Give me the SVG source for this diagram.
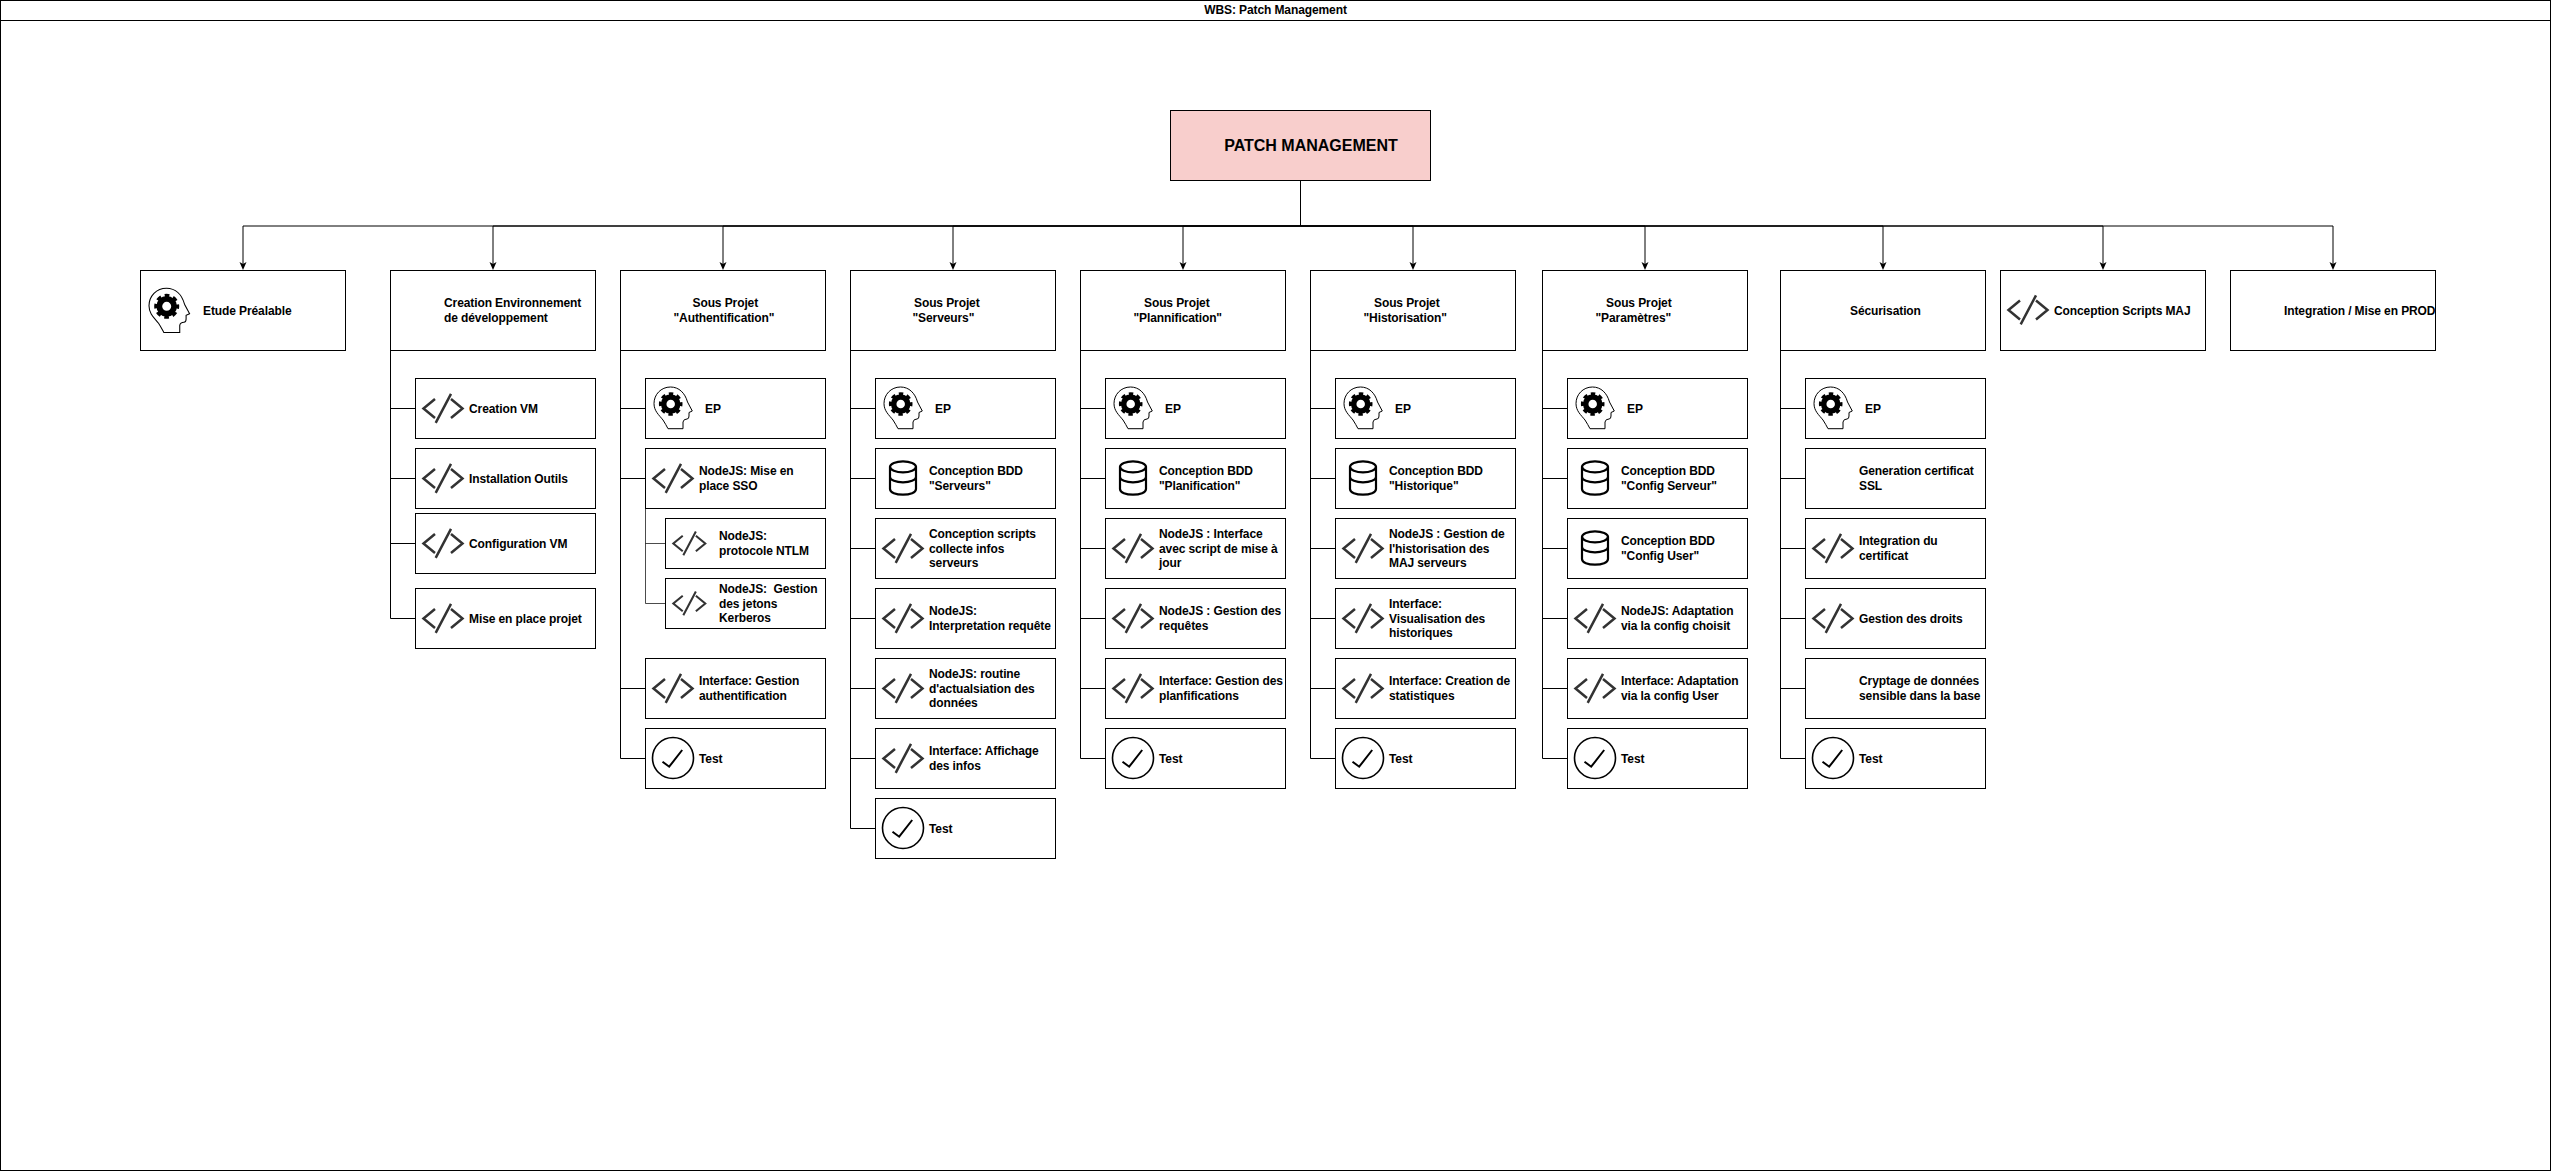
<svg xmlns="http://www.w3.org/2000/svg" xmlns:xlink="http://www.w3.org/1999/xlink" width="2551" height="1171" viewBox="0 0 2551 1171">
<style>
.b{fill:#fff;stroke:#000;stroke-width:1}
.l{fill:none;stroke:#000;stroke-width:1}
text{font-family:"Liberation Sans",Arial,sans-serif;font-size:12px;font-weight:700;fill:#000;letter-spacing:-0.1px}
.pre{white-space:pre}
</style>
<defs>
<marker id="arr" markerUnits="userSpaceOnUse" markerWidth="8" markerHeight="8" viewBox="0 -4 8 8" refX="4" refY="0" orient="auto"><path d="M0 -3.5L8 0L0 3.5L2 0Z" fill="#000"/></marker>
<g id="head"><path d="M14 41.7H29V35Q29.5 32 33 32Q35 32 35 29V25.5L38.3 24L33.5 15C31 6 25 0 16.5 0C7 0 0 7.5 0 16.5C0 24 5 28 9 33C11 36 12.5 39 14 41.7Z" fill="#fff" stroke="#000" stroke-width="1"/><circle cx="16.7" cy="17" r="7" fill="none" stroke="#000" stroke-width="5.5"/><circle cx="16.7" cy="17" r="10.3" fill="none" stroke="#000" stroke-width="3" stroke-dasharray="4.4 3.69" stroke-dashoffset="2.2"/></g>
<g id="code" fill="none" stroke="#333" stroke-width="2.5"><path d="M-8 -9.5L-19.5 0L-8 9.5M8 -9.5L19.5 0L8 9.5M8 -14.7L-7.3 14.3"/></g>
<g id="db" fill="none" stroke="#000" stroke-width="2.2"><ellipse cx="0" cy="-11.2" rx="13" ry="5.5"/><path d="M-13 -11.2V11C-13 14.5 -7 16.7 0 16.7S13 14.5 13 11V-11.2M-13 -1C-13 2 -7 4.3 0 4.3S13 2 13 -1"/></g>
<g id="check" fill="none" stroke="#000"><circle cx="0" cy="0" r="20.5" stroke-width="1.6"/><path d="M-10.5 3.7L-3.8 8.7L9.2 -8" stroke-width="2"/></g>
</defs>
<rect class="b" x="0.5" y="0.5" width="2550" height="1170"/>
<path class="l" d="M0.5 20.5H2550.5"/>
<text x="1275.5" y="14" text-anchor="middle">WBS: Patch Management</text>
<g id="connectors">
<path class="l" marker-end="url(#arr)" d="M1300.5 180.5V226H243V266"/>
<path class="l" marker-end="url(#arr)" d="M1300.5 180.5V226H493V266"/>
<path class="l" marker-end="url(#arr)" d="M1300.5 180.5V226H723V266"/>
<path class="l" marker-end="url(#arr)" d="M1300.5 180.5V226H953V266"/>
<path class="l" marker-end="url(#arr)" d="M1300.5 180.5V226H1183V266"/>
<path class="l" marker-end="url(#arr)" d="M1300.5 180.5V226H1413V266"/>
<path class="l" marker-end="url(#arr)" d="M1300.5 180.5V226H1645V266"/>
<path class="l" marker-end="url(#arr)" d="M1300.5 180.5V226H1883V266"/>
<path class="l" marker-end="url(#arr)" d="M1300.5 180.5V226H2103V266"/>
<path class="l" marker-end="url(#arr)" d="M1300.5 180.5V226H2333V266"/>
<path class="l" d="M390.5 350.5V618.5H415.5M390.5 408.5H415.5M390.5 478.5H415.5M390.5 543.5H415.5"/>
<path class="l" d="M620.5 350.5V758.5H645.5M620.5 408.5H645.5M620.5 478.5H645.5M620.5 688.5H645.5"/>
<path class="l" stroke-opacity="0.7" d="M645.5 508.5V603.5H665.5M645.5 543.5H665.5"/>
<path class="l" d="M850.5 350.5V828.5H875.5M850.5 408.5H875.5M850.5 478.5H875.5M850.5 548.5H875.5M850.5 618.5H875.5M850.5 688.5H875.5M850.5 758.5H875.5"/>
<path class="l" d="M1080.5 350.5V758.5H1105.5M1080.5 408.5H1105.5M1080.5 478.5H1105.5M1080.5 548.5H1105.5M1080.5 618.5H1105.5M1080.5 688.5H1105.5"/>
<path class="l" d="M1310.5 350.5V758.5H1335.5M1310.5 408.5H1335.5M1310.5 478.5H1335.5M1310.5 548.5H1335.5M1310.5 618.5H1335.5M1310.5 688.5H1335.5"/>
<path class="l" d="M1542.5 350.5V758.5H1567.5M1542.5 408.5H1567.5M1542.5 478.5H1567.5M1542.5 548.5H1567.5M1542.5 618.5H1567.5M1542.5 688.5H1567.5"/>
<path class="l" d="M1780.5 350.5V758.5H1805.5M1780.5 408.5H1805.5M1780.5 478.5H1805.5M1780.5 548.5H1805.5M1780.5 618.5H1805.5M1780.5 688.5H1805.5"/>
</g>
<g id="root"><rect x="1170.5" y="110.5" width="260" height="70" fill="#f8cecc" stroke="#000"/><text x="1311" y="151" text-anchor="middle" style="font-size:16px;letter-spacing:0">PATCH MANAGEMENT</text></g>
<g id="etude"><rect class="b" x="140.5" y="270.5" width="205" height="80"/><use xlink:href="#head" href="#head" transform="translate(149 288.3) scale(1.06)"/><text x="203" y="315">Etude Préalable</text></g>

<g id="creation"><rect class="b" x="390.5" y="270.5" width="205" height="80"/><text x="444" y="307">Creation Environnement</text><text x="444" y="322">de développement</text></g>
<g id="creation-vm"><rect class="b" x="415.5" y="378.5" width="180" height="60"/><use href="#code" x="443" y="408.5"/><text x="469" y="413">Creation VM</text></g>
<g id="install"><rect class="b" x="415.5" y="448.5" width="180" height="60"/><use href="#code" x="443" y="478.5"/><text x="469" y="483">Installation Outils</text></g>
<g id="config-vm"><rect class="b" x="415.5" y="513.5" width="180" height="60"/><use href="#code" x="443" y="543.5"/><text x="469" y="548">Configuration VM</text></g>
<g id="mise-place"><rect class="b" x="415.5" y="588.5" width="180" height="60"/><use href="#code" x="443" y="618.5"/><text x="469" y="623">Mise en place projet</text></g>

<g id="auth"><rect class="b" x="620.5" y="270.5" width="205" height="80"/><text x="692.5" y="307">Sous Projet</text><text x="673.5" y="322">"Authentification"</text></g>
<g id="auth-ep"><rect class="b" x="645.5" y="378.5" width="180" height="60"/><use href="#head" x="654" y="387"/><text x="705" y="413">EP</text></g>
<g id="auth-sso"><rect class="b" x="645.5" y="448.5" width="180" height="60"/><use href="#code" x="673" y="478.5"/><text x="699" y="475">NodeJS: Mise en</text><text x="699" y="490">place SSO</text></g>
<g id="auth-ntlm"><rect class="b" x="665.5" y="518.5" width="160" height="50"/><use href="#code" transform="translate(689.3 543.5) scale(0.82)"/><text x="719" y="540">NodeJS:</text><text x="719" y="555">protocole NTLM</text></g>
<g id="auth-kerberos"><rect class="b" x="665.5" y="578.5" width="160" height="50"/><use href="#code" transform="translate(689.3 603.5) scale(0.82)"/><text class="pre" x="719" y="593">NodeJS:  Gestion</text><text x="719" y="608">des jetons</text><text x="719" y="622">Kerberos</text></g>
<g id="auth-ui"><rect class="b" x="645.5" y="658.5" width="180" height="60"/><use href="#code" x="673" y="688.5"/><text x="699" y="685">Interface: Gestion</text><text x="699" y="700">authentification</text></g>
<g id="auth-test"><rect class="b" x="645.5" y="728.5" width="180" height="60"/><use href="#check" x="673" y="758"/><text x="699" y="763">Test</text></g>

<g id="serv"><rect class="b" x="850.5" y="270.5" width="205" height="80"/><text x="914" y="307">Sous Projet</text><text x="912.5" y="322">"Serveurs"</text></g>
<g id="serv-ep"><rect class="b" x="875.5" y="378.5" width="180" height="60"/><use href="#head" x="884" y="387"/><text x="935" y="413">EP</text></g>
<g id="serv-bdd"><rect class="b" x="875.5" y="448.5" width="180" height="60"/><use href="#db" x="903" y="478"/><text x="929" y="475">Conception BDD</text><text x="929" y="490">"Serveurs"</text></g>
<g id="serv-scripts"><rect class="b" x="875.5" y="518.5" width="180" height="60"/><use href="#code" x="903" y="548.5"/><text x="929" y="538">Conception scripts</text><text x="929" y="553">collecte infos</text><text x="929" y="567">serveurs</text></g>
<g id="serv-req"><rect class="b" x="875.5" y="588.5" width="180" height="60"/><use href="#code" x="903" y="618.5"/><text x="929" y="615">NodeJS:</text><text x="929" y="630">Interpretation requête</text></g>
<g id="serv-routine"><rect class="b" x="875.5" y="658.5" width="180" height="60"/><use href="#code" x="903" y="688.5"/><text x="929" y="678">NodeJS: routine</text><text x="929" y="693">d'actualsiation des</text><text x="929" y="707">données</text></g>
<g id="serv-ui"><rect class="b" x="875.5" y="728.5" width="180" height="60"/><use href="#code" x="903" y="758.5"/><text x="929" y="755">Interface: Affichage</text><text x="929" y="770">des infos</text></g>
<g id="serv-test"><rect class="b" x="875.5" y="798.5" width="180" height="60"/><use href="#check" x="903" y="828"/><text x="929" y="833">Test</text></g>

<g id="plan"><rect class="b" x="1080.5" y="270.5" width="205" height="80"/><text x="1144" y="307">Sous Projet</text><text x="1133.5" y="322">"Plannification"</text></g>
<g id="plan-ep"><rect class="b" x="1105.5" y="378.5" width="180" height="60"/><use href="#head" x="1114" y="387"/><text x="1165" y="413">EP</text></g>
<g id="plan-bdd"><rect class="b" x="1105.5" y="448.5" width="180" height="60"/><use href="#db" x="1133" y="478"/><text x="1159" y="475">Conception BDD</text><text x="1159" y="490">"Planification"</text></g>
<g id="plan-script"><rect class="b" x="1105.5" y="518.5" width="180" height="60"/><use href="#code" x="1133" y="548.5"/><text x="1159" y="538">NodeJS : Interface</text><text x="1159" y="553">avec script de mise à</text><text x="1159" y="567">jour</text></g>
<g id="plan-req"><rect class="b" x="1105.5" y="588.5" width="180" height="60"/><use href="#code" x="1133" y="618.5"/><text x="1159" y="615">NodeJS : Gestion des</text><text x="1159" y="630">requêtes</text></g>
<g id="plan-ui"><rect class="b" x="1105.5" y="658.5" width="180" height="60"/><use href="#code" x="1133" y="688.5"/><text x="1159" y="685">Interface: Gestion des</text><text x="1159" y="700">planfifications</text></g>
<g id="plan-test"><rect class="b" x="1105.5" y="728.5" width="180" height="60"/><use href="#check" x="1133" y="758"/><text x="1159" y="763">Test</text></g>

<g id="hist"><rect class="b" x="1310.5" y="270.5" width="205" height="80"/><text x="1374" y="307">Sous Projet</text><text x="1363.5" y="322">"Historisation"</text></g>
<g id="hist-ep"><rect class="b" x="1335.5" y="378.5" width="180" height="60"/><use href="#head" x="1344" y="387"/><text x="1395" y="413">EP</text></g>
<g id="hist-bdd"><rect class="b" x="1335.5" y="448.5" width="180" height="60"/><use href="#db" x="1363" y="478"/><text x="1389" y="475">Conception BDD</text><text x="1389" y="490">"Historique"</text></g>
<g id="hist-maj"><rect class="b" x="1335.5" y="518.5" width="180" height="60"/><use href="#code" x="1363" y="548.5"/><text x="1389" y="538">NodeJS : Gestion de</text><text x="1389" y="553">l'historisation des</text><text x="1389" y="567">MAJ serveurs</text></g>
<g id="hist-visu"><rect class="b" x="1335.5" y="588.5" width="180" height="60"/><use href="#code" x="1363" y="618.5"/><text x="1389" y="608">Interface:</text><text x="1389" y="623">Visualisation des</text><text x="1389" y="637">historiques</text></g>
<g id="hist-stats"><rect class="b" x="1335.5" y="658.5" width="180" height="60"/><use href="#code" x="1363" y="688.5"/><text x="1389" y="685">Interface: Creation de</text><text x="1389" y="700">statistiques</text></g>
<g id="hist-test"><rect class="b" x="1335.5" y="728.5" width="180" height="60"/><use href="#check" x="1363" y="758"/><text x="1389" y="763">Test</text></g>

<g id="param"><rect class="b" x="1542.5" y="270.5" width="205" height="80"/><text x="1606" y="307">Sous Projet</text><text x="1595.5" y="322">"Paramètres"</text></g>
<g id="param-ep"><rect class="b" x="1567.5" y="378.5" width="180" height="60"/><use href="#head" x="1576" y="387"/><text x="1627" y="413">EP</text></g>
<g id="param-bdd1"><rect class="b" x="1567.5" y="448.5" width="180" height="60"/><use href="#db" x="1595" y="478"/><text x="1621" y="475">Conception BDD</text><text x="1621" y="490">"Config Serveur"</text></g>
<g id="param-bdd2"><rect class="b" x="1567.5" y="518.5" width="180" height="60"/><use href="#db" x="1595" y="548"/><text x="1621" y="545">Conception BDD</text><text x="1621" y="560">"Config User"</text></g>
<g id="param-node"><rect class="b" x="1567.5" y="588.5" width="180" height="60"/><use href="#code" x="1595" y="618.5"/><text x="1621" y="615">NodeJS: Adaptation</text><text x="1621" y="630">via la config choisit</text></g>
<g id="param-ui"><rect class="b" x="1567.5" y="658.5" width="180" height="60"/><use href="#code" x="1595" y="688.5"/><text x="1621" y="685">Interface: Adaptation</text><text x="1621" y="700">via la config User</text></g>
<g id="param-test"><rect class="b" x="1567.5" y="728.5" width="180" height="60"/><use href="#check" x="1595" y="758"/><text x="1621" y="763">Test</text></g>

<g id="secu"><rect class="b" x="1780.5" y="270.5" width="205" height="80"/><text x="1850" y="315">Sécurisation</text></g>
<g id="secu-ep"><rect class="b" x="1805.5" y="378.5" width="180" height="60"/><use href="#head" x="1814" y="387"/><text x="1865" y="413">EP</text></g>
<g id="secu-ssl"><rect class="b" x="1805.5" y="448.5" width="180" height="60"/><text x="1859" y="475">Generation certificat</text><text x="1859" y="490">SSL</text></g>
<g id="secu-int"><rect class="b" x="1805.5" y="518.5" width="180" height="60"/><use href="#code" x="1833" y="548.5"/><text x="1859" y="545">Integration du</text><text x="1859" y="560">certificat</text></g>
<g id="secu-droits"><rect class="b" x="1805.5" y="588.5" width="180" height="60"/><use href="#code" x="1833" y="618.5"/><text x="1859" y="623">Gestion des droits</text></g>
<g id="secu-crypt"><rect class="b" x="1805.5" y="658.5" width="180" height="60"/><text x="1859" y="685">Cryptage de données</text><text x="1859" y="700">sensible dans la base</text></g>
<g id="secu-test"><rect class="b" x="1805.5" y="728.5" width="180" height="60"/><use href="#check" x="1833" y="758"/><text x="1859" y="763">Test</text></g>

<g id="scripts-maj"><rect class="b" x="2000.5" y="270.5" width="205" height="80"/><use href="#code" x="2028" y="310"/><text x="2054" y="315">Conception Scripts MAJ</text></g>
<g id="integration"><rect class="b" x="2230.5" y="270.5" width="205" height="80"/><text x="2284" y="315">Integration / Mise en PROD</text></g>
</svg>
